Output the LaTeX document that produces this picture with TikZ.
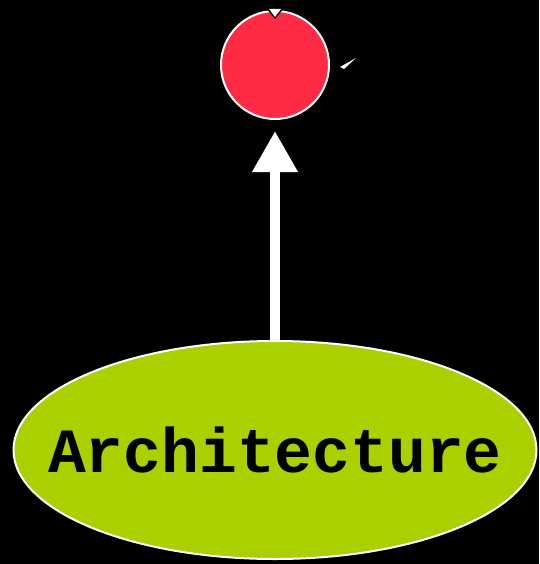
\documentclass[tikz,border=0pt]{standalone}
\usepackage{fontspec}
\newfontfamily\typefont{Liberation Mono}
\usepackage{tikz}
\usetikzlibrary{arrows.meta,shapes.geometric}
\definecolor{topred}{RGB}{255,42,68}
\definecolor{leafgreen}{RGB}{170,208,0}
\tikzset{
  topic/.style={circle,draw=white,line width=2pt,fill=topred,minimum size=108pt,inner sep=0pt},
  area/.style={ellipse,draw=white,line width=2pt,fill=leafgreen,minimum width=523pt,minimum height=218pt,inner sep=0pt,
    font=\typefont\bfseries\fontsize{63}{63}\selectfont},
  up/.style={white,line width=10pt,-{Triangle[length=41pt,width=43pt]},shorten >=11pt},
  tip/.style={fill=white,draw=none}
}

\begin{document}
\begin{tikzpicture}[x=1pt,y=-1pt]
\fill[black] (0,0) rectangle (539,564); \useasboundingbox (0,0) rectangle (539,564);
\node[topic] (top) at (275,65) {};
\node[area] (arch) at (275,450) {\makebox[0pt]{Architecture}};
\draw[up] (arch.north) -- (top.south);
% loop ends
\fill[black] (266,8) -- (284,8) -- (275,19) -- cycle; \fill[tip] (269,9) -- (281,9) -- (275,17) -- cycle;
\fill[tip] (340,67) -- (356,58) -- (344,69) -- cycle;
\end{tikzpicture}
\end{document}
